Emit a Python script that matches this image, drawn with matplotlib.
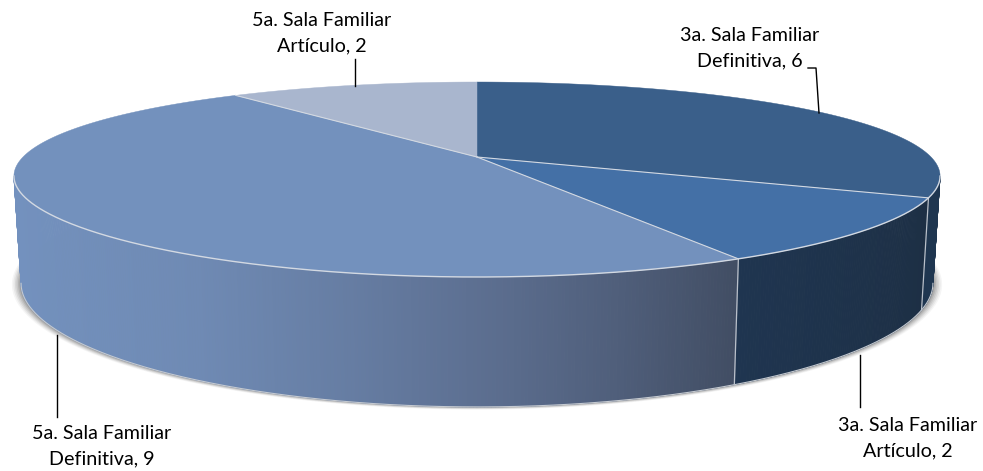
# -*- coding: utf-8 -*-
"""Pie 3D: salas familiares. Tilted disc drawn with a perspective projection."""
import matplotlib
matplotlib.use("Agg")
import matplotlib.pyplot as plt
import numpy as np

plt.rcParams["font.family"] = ["Lato", "DejaVu Sans"]

labels = ["3a. Sala Familiar\nDefinitiva, 6", "3a. Sala Familiar\nArtículo, 2",
          "5a. Sala Familiar\nDefinitiva, 9", "5a. Sala Familiar\nArtículo, 2"]
values = [6, 2, 9, 2]
top_colors = ["#3a5f8a", "#4470a6", "#7391bd", "#a9b6ce"]

# perspective of the disc, in pixels
K = 0.2308
KX = 0.197
CX = 477


def project(theta, a, b, cy):
    u, v = np.sin(theta), np.cos(theta)
    return CX + a * u / (1 + KX * v), cy - b * v / (1 + K * v)


def top(theta):
    return project(theta, 454, 92.3, 157)


def bottom(theta):
    return project(theta, 447, 113, 260)


edges = np.concatenate([[0], np.cumsum(values)]) / sum(values) * 2 * np.pi
rim = "#d3d9e2"

fig, ax = plt.subplots(figsize=(9.83, 4.71), dpi=100)
ax.set_position([0, 0, 1, 1])
ax.set_xlim(0, 983)
ax.set_ylim(471, 0)
ax.axis("off")

# soft shadow under the disc
full = np.linspace(0, 2 * np.pi, 361)
for grow, alpha in [(9, 0.05), (7.5, 0.07), (6, 0.09), (4.5, 0.11), (3, 0.14), (1.5, 0.18)]:
    ax.fill(*project(full, 447 + grow, 113 + grow * 0.15, 260 + grow * 0.1), color="#404040", alpha=alpha, lw=0)

# wall, front part only, strip by strip
left_end = 2 * np.pi - np.arccos(-KX)
right_end = np.arccos(-KX)
ts = np.linspace(right_end, left_end, 421)
x_stops = [20, 200, 350, 500, 620, 736]
c_stops = np.array([[0x73, 0x91, 0xbe], [0x6f, 0x8a, 0xb4], [0x66, 0x7d, 0xa3],
                    [0x5b, 0x6d, 0x8e], [0x4f, 0x5e, 0x7a], [0x41, 0x4d, 0x63]]) / 255
for t0, t1 in zip(ts[:-1], ts[1:]):
    mid = (t0 + t1) / 2
    xt0, yt0 = top(t0)
    xt1, yt1 = top(t1)
    xb0, yb0 = bottom(t0)
    xb1, yb1 = bottom(t1)
    if mid < edges[1]:
        col = "#1f3650"
    elif mid < edges[2]:
        f = (mid - edges[1]) / (edges[2] - edges[1])
        col = tuple(np.array([0x1d, 0x2f, 0x44]) / 255 * (1 - f) + np.array([0x1f, 0x35, 0x50]) / 255 * f)
    else:
        xm = bottom(mid)[0]
        col = tuple(np.interp(xm, x_stops, c_stops[:, i]) for i in range(3))
    ax.fill([xt0, xt1, xb1, xb0], [yt0, yt1, yb1, yb0], color=col, lw=0.6)
ax.plot(*bottom(ts), color="#c4c9d0", lw=0.8)

# wall seams at slice borders
for e in edges[1:3]:
    xt, yt = top(e)
    xb, yb = bottom(e)
    ax.plot([xt, xb], [yt, yb], color="#b9c0ca", lw=0.9)

# top face
for i in range(len(values)):
    th = np.linspace(edges[i], edges[i + 1], 200)
    x, y = top(th)
    ax.fill(np.r_[CX, x], np.r_[157, y], color=top_colors[i], lw=0.3)

# rim and borders of the top face
ax.plot(*top(ts), color=rim, lw=1.0)
for e in edges[1:4]:
    xt, yt = top(e)
    ax.plot([CX, xt], [157, yt], color=rim, lw=0.8)

# leader lines
ax.plot([808, 816, 819], [68, 68, 113], color="black", lw=1.0)
ax.plot([860, 860], [355, 407], color="black", lw=1.0)
ax.plot([57, 57], [335, 417], color="black", lw=1.0)
ax.plot([355, 355], [59, 86], color="black", lw=1.0)

# labels
label_x = [750, 908, 102, 322]
label_y = [48, 438, 446, 33]
for lab, lx, ly in zip(labels, label_x, label_y):
    ax.text(lx, ly, lab, ha="center", va="center", fontsize=14.2, color="black", linespacing=1.58)

fig.savefig("out.png", dpi=100)
